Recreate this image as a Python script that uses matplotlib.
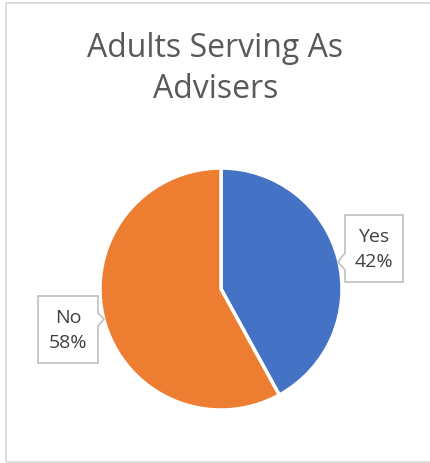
import matplotlib
matplotlib.use("Agg")
import matplotlib.pyplot as plt
from matplotlib.patches import Rectangle, Polygon

categories = ["Yes", "No"]
values = [42, 58]
colors = ["#4472C4", "#ED7D31"]
title = "Adults Serving As\nAdvisers"

W, H = 431, 464
fig = plt.figure(figsize=(W / 100, H / 100), dpi=100)
fig.patch.set_facecolor("white")

# outer frame
fig.add_artist(Rectangle((6.5 / W, 1.5 / H), (W + 10) / W, (H - 5) / H,
                         transform=fig.transFigure, fill=False,
                         edgecolor="#D9D9D9", linewidth=1.3))

fig.text(0.5, 1 - 69 / H, title, ha="center", va="center", fontsize=23,
         color="#595959", family="Open Sans", linespacing=1.3)

cx, cy, R = 221, 290, 121
ax = fig.add_axes([(cx - R) / W, (H - cy - R) / H, 2 * R / W, 2 * R / H])

wedges, _ = ax.pie(values, colors=colors, startangle=90, counterclock=False,
                   radius=1, wedgeprops=dict(edgecolor="white", linewidth=2.5))
ax.set_xlim(-1, 1)
ax.set_ylim(-1, 1)
ax.set_aspect("equal")
ax.axis("off")

def px(x, y):
    return ((x - cx) / R, -(y - cy) / R)

# callouts: box (x0,y0,x1,y1) pixel, pointer side
boxes = [
    dict(box=(345, 216, 403, 283), side="left", py=(254, 271), tip=(338, 263)),
    dict(box=(38, 297, 98, 364), side="right", py=(314, 327), tip=(104, 320)),
]
for cat, val, b in zip(categories, values, boxes):
    x0, y0, x1, y1 = b["box"]
    p0, p1 = b["py"]
    if b["side"] == "left":
        pts = [(x0, y0), (x1, y0), (x1, y1), (x0, y1), (x0, p1), b["tip"], (x0, p0)]
    else:
        pts = [(x0, y0), (x1, y0), (x1, p0), b["tip"], (x1, p1), (x1, y1), (x0, y1)]
    poly = Polygon([px(*p) for p in pts], closed=True, facecolor="white",
                   edgecolor="#BFBFBF", linewidth=1.2, clip_on=False, zorder=3)
    ax.add_patch(poly)
    tx, ty = px((x0 + x1) / 2, (y0 + y1) / 2)
    ax.text(tx, ty, f"{cat}\n{val}%", ha="center", va="center", fontsize=14,
            color="#404040", family="Open Sans", linespacing=1.45,
            zorder=4, clip_on=False)

fig.savefig("out.png", dpi=100, facecolor="white")
